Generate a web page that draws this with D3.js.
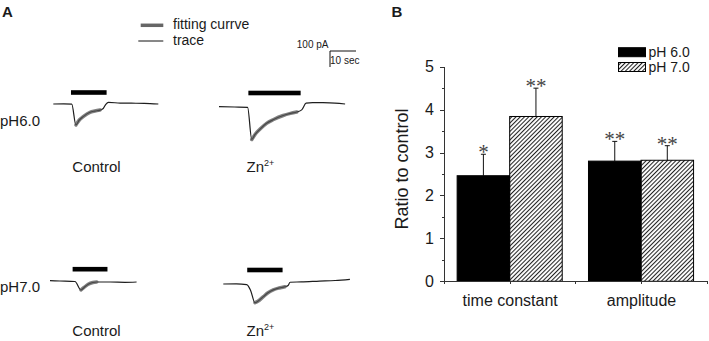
<!DOCTYPE html>
<html lang="en">
<head>
<meta charset="utf-8">
<title>Zn2+ currents and ratio to control</title>
<script src="https://cdn.jsdelivr.net/npm/d3@7"></script>
<style>
  body { margin: 0; background: #fff; }
  svg text { font-family: "Liberation Sans", Arial, sans-serif; fill: #1a1a1a; }
  .axis path, .axis line { stroke: #333; stroke-width: 1; shape-rendering: crispEdges; }
  .axis text { font-size: 16px; fill: #1a1a1a; }
  .trace { fill: none; stroke: #1e1e1e; stroke-width: 1.2; }
  .fit { fill: none; stroke: #555; stroke-width: 3.5; stroke-opacity: 0.75; stroke-linecap: round; }
</style>
</head>
<body>
<div id="chart"></div>
<script>
// ---- panel A: current traces (time in sec, current in pA, relative to baseline) ----
var tracePh6Control = [[0,0],[4,1],[7.1,-1],[8.7,-131],[10,-100],[11.5,-79],[14.1,-52],[16,-44],[18,-38],[19.2,-28],[20.2,-2],[21.2,10],[25.7,6],[30,5],[35,4],[40.4,0]];
var fitPh6Control   = [[8.7,-131],[10,-100],[11.5,-79],[14.1,-52],[16,-44],[18,-38]];
var tracePh6Zn      = [[0,0],[6,-2],[11,-4],[12.6,-205],[13.8,-175],[15.8,-140],[18.3,-104],[21,-80],[24.7,-55],[27.5,-42],[29.9,-33],[31.8,-20],[33.5,22],[36,26],[40,25],[44.6,22],[48.5,17]];
var fitPh6Zn        = [[12.6,-205],[13.8,-175],[15.8,-140],[18.3,-104],[21,-80],[24.7,-55],[27.5,-42],[29.9,-33]];
var tracePh7Control = [[0,0],[3.8,-2],[9.6,-5],[11.9,-58],[13.1,-42],[14.7,-22],[16.5,-11],[18,-8],[23.2,-8],[28.8,-10],[33.3,-8]];
var fitPh7Control   = [[11.9,-58],[13.1,-42],[14.7,-22],[16.5,-11],[18,-8]];
var tracePh7Zn      = [[0,0],[5,1],[9,-4],[10.5,-40],[12.2,-117],[13.3,-108],[15.4,-79],[17.2,-55],[19.2,-37],[21.5,-25],[23.7,-17],[24.9,-9],[25.7,11],[30,13],[37,18],[43,22],[48.7,29]];
var fitPh7Zn        = [[12.2,-117],[13.3,-108],[15.4,-79],[17.2,-55],[19.2,-37],[21.5,-25],[23.7,-17]];
// drug application bars [start, end] in sec
var applyPh6Control = [6.8, 20.5];
var applyPh6Zn      = [11.3, 31.4];
var applyPh7Control = [8.7, 22.1];
var applyPh7Zn      = [9.2, 22.8];

// ---- panel B: ratio to control ----
var groups   = ["time constant", "amplitude"];
var ph6Mean  = [2.46, 2.80];
var ph6Err   = [0.50, 0.46];
var ph7Mean  = [3.84, 2.82];
var ph7Err   = [0.66, 0.34];
var ph6Stars = ["*", "**"];
var ph7Stars = ["**", "**"];
var yTicks   = [0, 1, 2, 3, 4, 5];

var svg = d3.select("#chart").append("svg")
    .attr("width", 709)
    .attr("height", 341);

// hatch pattern
svg.append("defs").append("pattern")
    .attr("id", "hatch")
    .attr("patternUnits", "userSpaceOnUse")
    .attr("width", 3).attr("height", 3)
    .attr("patternTransform", "rotate(45)")
  .append("line")
    .attr("x1", 0.5).attr("y1", 0).attr("x2", 0.5).attr("y2", 3)
    .attr("stroke", "#222").attr("stroke-width", 1.1);

// ================= panel A =================
svg.append("text").attr("x", 2).attr("y", 17)
   .style("font-weight", "bold").style("font-size", "15px").text("A");

// time/current scales shared by all traces and the scale bar
var tx = d3.scaleLinear().domain([0, 10]).range([0, 26]);
var ty = d3.scaleLinear().domain([0, 100]).range([0, -16]);
var line = d3.line().x(function(d) { return tx(d[0]); }).y(function(d) { return ty(d[1]); })
             .curve(d3.curveMonotoneX);

var panels = [
  {x: 53.3, y: 104,   trace: tracePh6Control, fit: fitPh6Control, apply: applyPh6Control, lift: 11.5},
  {x: 219,  y: 106.7, trace: tracePh6Zn,      fit: fitPh6Zn,      apply: applyPh6Zn,      lift: 13.7},
  {x: 50,   y: 280.7, trace: tracePh7Control, fit: fitPh7Control, apply: applyPh7Control, lift: 11.5},
  {x: 223.3,y: 284,   trace: tracePh7Zn,      fit: fitPh7Zn,      apply: applyPh7Zn,      lift: 14}
];

panels.forEach(function(p) {
  var g = svg.append("g").attr("transform", "translate(" + p.x + "," + p.y + ")");
  g.append("rect")
   .attr("x", tx(p.apply[0]))
   .attr("y", -p.lift - 2.3)
   .attr("width", tx(p.apply[1]) - tx(p.apply[0]))
   .attr("height", 4.6)
   .attr("fill", "#000");
  g.append("path").attr("class", "trace").attr("d", line(p.trace));
  g.append("path").attr("class", "fit").attr("d", line(p.fit));
});

// row labels
svg.append("text").attr("x", 0).attr("y", 126).style("font-size", "15px").text("pH6.0");
svg.append("text").attr("x", 0).attr("y", 292).style("font-size", "15px").text("pH7.0");

// column labels
[171.7, 336].forEach(function(yy) {
  svg.append("text").attr("x", 96.5).attr("y", yy).attr("text-anchor", "middle")
     .style("font-size", "15px").text("Control");
  var z = svg.append("text").attr("x", 246.5).attr("y", yy).style("font-size", "15px");
  z.append("tspan").text("Zn");
  z.append("tspan").attr("dy", -6).style("font-size", "9px").text("2+");
});

// legend of panel A
svg.append("line").attr("x1", 140.7).attr("x2", 163.3).attr("y1", 25.3).attr("y2", 25.3)
   .attr("stroke", "#666").attr("stroke-width", 3.5);
svg.append("line").attr("x1", 138.3).attr("x2", 163.3).attr("y1", 41).attr("y2", 41)
   .attr("stroke", "#111").attr("stroke-width", 1);
svg.append("text").attr("x", 173).attr("y", 29.3).style("font-size", "14px").text("fitting currve");
svg.append("text").attr("x", 173).attr("y", 45.2).style("font-size", "14px").text("trace");

// scale bar: 100 pA / 10 sec
var sb = svg.append("g").attr("transform", "translate(330,51)");
sb.append("path")
  .attr("d", "M0," + ty(-100) + "V0H" + tx(10))
  .attr("fill", "none").attr("stroke", "#111").attr("stroke-width", 1);
sb.append("text").attr("x", -1.5).attr("y", -3.5).attr("text-anchor", "end")
  .style("font-size", "10px").text("100 pA");
sb.append("text").attr("x", 0).attr("y", 12.5).style("font-size", "10px").text("10 sec");

// ================= panel B =================
svg.append("text").attr("x", 391.5).attr("y", 17)
   .style("font-weight", "bold").style("font-size", "15px").text("B");

var x = d3.scaleLinear().domain([0, 4]).range([444, 706.7]);
var y = d3.scaleLinear().domain([0, 5]).range([281.3, 66.7]);
var barW = 0.8;

// bars
var bars = [];
groups.forEach(function(name, i) {
  var c = 1 + 2 * i;
  bars.push({x0: c - barW, x1: c, v: ph6Mean[i], e: ph6Err[i], star: ph6Stars[i], fill: "#000"});
  bars.push({x0: c, x1: c + barW, v: ph7Mean[i], e: ph7Err[i], star: ph7Stars[i], fill: "url(#hatch)"});
});

// error bars first, so the bar covers the lower half
svg.selectAll(".err").data(bars).enter().append("path")
   .attr("class", "err")
   .attr("d", function(d) {
      var cx = (x(d.x0) + x(d.x1)) / 2;
      return "M" + cx + "," + y(d.v) + "V" + y(d.v + d.e) + "M" + (cx - 2.5) + "," + y(d.v + d.e) + "H" + (cx + 2.5);
   })
   .attr("stroke", "#111").attr("stroke-width", 1).attr("fill", "none");

svg.selectAll(".bar").data(bars).enter().append("rect")
   .attr("class", "bar")
   .attr("x", function(d) { return x(d.x0); })
   .attr("y", function(d) { return y(d.v); })
   .attr("width", function(d) { return x(d.x1) - x(d.x0); })
   .attr("height", function(d) { return y(0) - y(d.v); })
   .attr("fill", function(d) { return d.fill; })
   .attr("stroke", "#000").attr("stroke-width", 1);

svg.selectAll(".star").data(bars).enter().append("text")
   .attr("class", "star")
   .attr("x", function(d) { return (x(d.x0) + x(d.x1)) / 2; })
   .attr("y", function(d) { return y(d.v + d.e) + 5; })
   .attr("text-anchor", "middle")
   .style("font-family", "'Liberation Serif', 'Times New Roman', serif")
   .style("font-size", "21px")
   .style("fill", "#444")
   .text(function(d) { return d.star; });

// y axis with minor ticks
svg.append("g").attr("class", "axis")
   .attr("transform", "translate(444,0)")
   .call(d3.axisLeft(y).tickValues(yTicks).tickSize(4).tickSizeOuter(0).tickPadding(6).tickFormat(d3.format("d")));
svg.append("g").attr("class", "axis minor")
   .attr("transform", "translate(444,0)")
   .call(d3.axisLeft(y).tickValues([0.5, 1.5, 2.5, 3.5, 4.5]).tickSize(2).tickFormat(""))
   .select(".domain").remove();

// x axis
svg.append("g").attr("class", "axis")
   .attr("transform", "translate(0,281.3)")
   .call(d3.axisBottom(x).tickValues([0, 1, 2, 3, 4]).tickSize(3).tickSizeOuter(0).tickPadding(10)
        .tickFormat(function(d) { return d % 2 === 1 ? groups[(d - 1) / 2] : ""; }));

svg.append("text")
   .attr("transform", "translate(408,169) rotate(-90)")
   .attr("text-anchor", "middle")
   .style("font-size", "18px")
   .text("Ratio to control");

// legend of panel B
var legend = [{label: "pH 6.0", fill: "#000", y: 47.7}, {label: "pH 7.0", fill: "url(#hatch)", y: 62.5}];
legend.forEach(function(l) {
  svg.append("rect").attr("x", 618.5).attr("y", l.y).attr("width", 27).attr("height", 9)
     .attr("fill", l.fill).attr("stroke", "#000").attr("stroke-width", 1);
  svg.append("text").attr("x", 648.5).attr("y", l.y + 9.5).style("font-size", "14px").text(l.label);
});
</script>
</body>
</html>
